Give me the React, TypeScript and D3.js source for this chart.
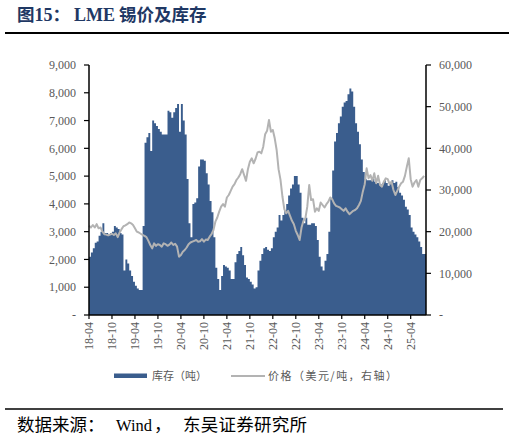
import React from 'react'
import * as d3 from 'd3'

// LME tin: inventory (tonnes, left axis) and price (USD/t, right axis)
// one value per half month, starting 2018-04
const inventory = [
  2100, 2250, 2400, 2600, 2650, 2850, 3000, 3300, 2950, 2950, 2900, 2950, 3000, 3200, 3150, 3100,
  2950, 2900, 1600, 2000, 1850, 1600, 1400, 1200, 1050, 950, 900, 900, 3200, 6200, 6400, 6550,
  5900, 7000, 6900, 6800, 6700, 6600, 6500, 6500, 6500, 7350, 7300, 7100, 7300, 7450, 7600, 6600,
  7600, 7000, 6500, 4900, 3300, 2800, 4000, 4050, 4200, 5350, 5600, 5600, 5550, 5100, 4700, 4100,
  3700, 2800, 1700, 1300, 900, 1400, 1800, 1750, 1700, 1600, 1300, 1300, 1900, 2200, 2300, 2450,
  2150, 1800, 1350, 1300, 1200, 1100, 950, 1000, 1600, 1950, 2200, 2400, 2450, 2350, 2300, 2400,
  2800, 3000, 3150, 3600, 3400, 3600, 3750, 4000, 4300, 4550, 4700, 5000, 5000, 4700, 4400, 3500,
  3300, 3500, 3250, 3250, 3300, 3300, 3200, 2700, 2100, 1750, 1600, 1950, 2200, 3000, 4200, 5200,
  6250, 6550, 6900, 7150, 7500, 7650, 7700, 7950, 8150, 8050, 7500, 6900, 6600, 6150, 5600, 5150,
  4900, 4850, 4850, 4850, 4900, 4800, 4750, 4750, 4700, 4750, 4850, 4750, 4650, 4750, 4850, 4750,
  4800, 4600, 4400, 4300, 4150, 3900, 3800, 3600, 3150, 3000, 2900, 2800, 2650, 2450, 2200, 2200,
]

const price = [
  21400, 21000, 21600, 21000, 21800, 20800, 21000, 20000, 19400, 19300, 19100, 19300, 19500, 19200, 19600, 18700,
  19800, 20600, 21300, 21500, 21800, 22200, 22000, 21600, 20800, 20000, 19800, 19500, 19200, 19000, 18700, 17800,
  16800, 16000, 17200, 16600, 17000, 16800, 16400, 17200, 17000, 16600, 16900, 17400, 16800, 17100, 16400, 14000,
  14400, 15200, 15600, 16200, 17000, 17400, 17600, 17800, 18000, 17600, 17700, 18200, 17600, 18100, 18000, 18800,
  19400, 20400, 22400, 23400, 24800, 26000, 26600, 26000, 28200, 28800, 29800, 30800, 31400, 32400, 33000, 33800,
  35000, 33600, 32200, 35000, 36800, 37600, 36400, 37500, 39000, 39200, 38800, 40400, 43400, 44200, 46800, 44000,
  44400, 42400, 39600, 35000, 32500, 28500, 25400, 24400, 25000, 23800, 22600, 21800, 20200, 19200, 18000, 21000,
  22600, 23200, 26000, 31200, 27600, 27800, 24800, 25600, 25000, 27000, 26400, 25800, 26600, 27200, 28200, 27800,
  26800, 26200, 26000, 25800, 25400, 25000, 25600, 24800, 24200, 24600, 25000, 25200, 25600, 26400, 27400, 29600,
  31400, 35200, 32800, 33600, 32200, 34000, 31600, 33400, 31200, 30800, 32000, 32800, 32600, 31400, 32000, 30000,
  28800, 29800, 30800, 31600, 32000, 33400, 35600, 37600, 32600, 30800, 31800, 32400, 30800, 32400, 32800, 33400,
]

const xTickLabels = ['18-04', '18-10', '19-04', '19-10', '20-04', '20-10', '21-04', '21-10',
  '22-04', '22-10', '23-04', '23-10', '24-04', '24-10', '25-04']
const leftTicks = [0, 1000, 2000, 3000, 4000, 5000, 6000, 7000, 8000, 9000]
const rightTicks = [0, 10000, 20000, 30000, 40000, 50000, 60000]

const W = 509
const H = 443
const plot = {left: 89, right: 426, top: 65, bottom: 315}
const barColor = '#3a5d8d'
const lineColor = '#b3b3b3'
const labelColor = '#595959'
const serif = '"Times New Roman", "Liberation Serif", serif'
const cjk = '"Noto Sans CJK SC", sans-serif'

export default function App() {
  const months = inventory.length / 2 // months covered by the series
  const x = d3.scaleLinear().domain([0, months]).range([plot.left, plot.right])
  const yL = d3.scaleLinear().domain([0, 9000]).range([plot.bottom, plot.top])
  const yR = d3.scaleLinear().domain([0, 60000]).range([plot.bottom, plot.top])
  const fmt = d3.format(',')
  const lab = (v: number) => (v === 0 ? '-' : fmt(v))

  const area = d3.area<number>()
    .x((_, i) => x(i / 2))
    .y0(yL(0))
    .y1(d => yL(d))
    .curve(d3.curveStepAfter)

  const line = d3.line<number>()
    .x((_, i) => x(i / 2))
    .y(d => yR(d))

  return (
    <svg width={W} height={H} style={{position: 'absolute', left: 0, top: 0, background: '#fff'}}>
      {/* title */}
      <text x={17} y={21} fontSize={17.5} fontWeight="bold" fill="#1f3864" fontFamily={cjk}>
        图<tspan fontFamily={serif} fontSize={18}>15</tspan>：<tspan fontFamily={serif} fontSize={18} dx={4}>LME</tspan> 锡价及库存
      </text>
      <line x1={5} x2={509} y1={33} y2={33} stroke="#000" strokeWidth={2} />

      {/* marks */}
      <path d={area([...inventory, inventory[inventory.length - 1]]) || ''} fill={barColor} />
      <path d={line(price) || ''} fill="none" stroke={lineColor} strokeWidth={2} strokeLinejoin="round" />

      {/* left axis */}
      <line x1={plot.left} x2={plot.left} y1={plot.top} y2={plot.bottom} stroke="#000" strokeWidth={1.5} />
      {leftTicks.map(t => (
        <g key={'l' + t}>
          <line x1={plot.left - 5} x2={plot.left} y1={yL(t)} y2={yL(t)} stroke="#000" strokeWidth={1.2} />
          <text x={plot.left - 13} y={yL(t)} dy="0.35em" textAnchor="end" fontSize={12}
            fill={labelColor} fontFamily={serif}>{lab(t)}</text>
        </g>
      ))}

      {/* right axis */}
      <line x1={plot.right} x2={plot.right} y1={plot.top} y2={plot.bottom} stroke="#000" strokeWidth={1.5} />
      {rightTicks.map(t => (
        <g key={'r' + t}>
          <line x1={plot.right} x2={plot.right + 5} y1={yR(t)} y2={yR(t)} stroke="#000" strokeWidth={1.2} />
          <text x={plot.right + 13} y={yR(t)} dy="0.35em" textAnchor="start" fontSize={12}
            fill={labelColor} fontFamily={serif}>{lab(t)}</text>
        </g>
      ))}

      {/* bottom axis */}
      <line x1={plot.left} x2={plot.right} y1={plot.bottom} y2={plot.bottom} stroke="#000" strokeWidth={1.5} />
      {xTickLabels.map((l, i) => {
        const px = x(i * 6)
        return (
          <g key={l}>
            <line x1={px} x2={px} y1={plot.bottom} y2={plot.bottom + 4} stroke="#000" strokeWidth={1.2} />
            <text transform={`translate(${px},${plot.bottom + 7}) rotate(-90)`} dy="0.35em" textAnchor="end"
              fontSize={12} fill={labelColor} fontFamily={serif}>{l}</text>
          </g>
        )
      })}

      {/* legend */}
      <rect x={114} y={373.5} width={33} height={4.5} fill={barColor} />
      <text x={152} y={380} fontSize={11} fill={labelColor} fontFamily={cjk}>库存（吨）</text>
      <line x1={231} x2={265} y1={376} y2={376} stroke={lineColor} strokeWidth={1.8} />
      <text x={268} y={380} fontSize={11} fill={labelColor} fontFamily={cjk}
        textLength={129} lengthAdjust="spacing">价格（美元/吨，右轴）</text>

      {/* source */}
      <line x1={5} x2={503} y1={409} y2={409} stroke="#000" strokeWidth={1.5} />
      <text x={17} y={431} fontSize={17.5} fill="#000" fontFamily={cjk}>数据来源：</text>
      <text x={116} y={431} fontSize={16.5} fill="#000" fontFamily={serif}>Wind</text>
      <text x={154} y={431} fontSize={17.5} fill="#000" fontFamily={cjk}>，</text>
      <text x={183} y={431} fontSize={17.5} fill="#000" fontFamily={cjk}
        textLength={124} lengthAdjust="spacing">东吴证券研究所</text>
    </svg>
  )
}
